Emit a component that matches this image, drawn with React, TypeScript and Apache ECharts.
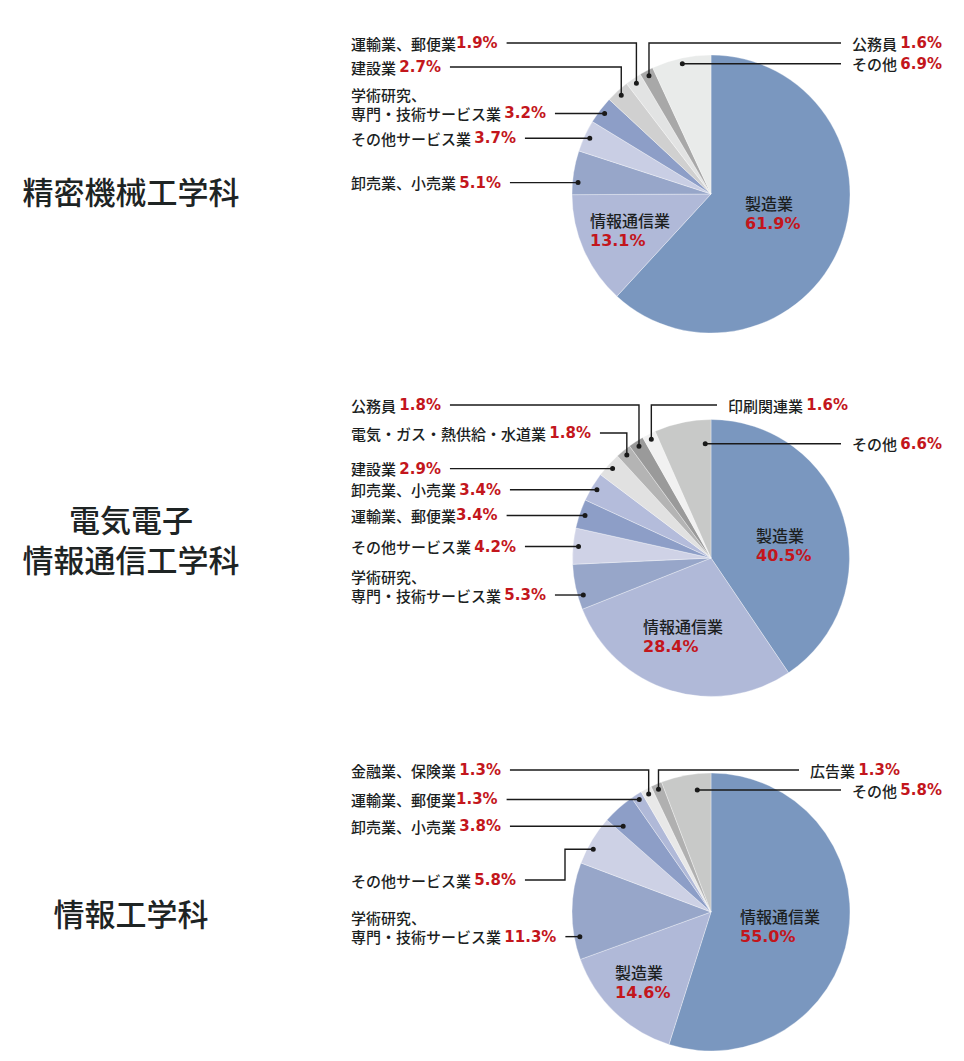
import React, { useEffect, useRef } from 'react';
import * as echarts from 'echarts';

// ---------- data ----------
const deptTitles = [['精密機械工学科'], ['電気電子', '情報通信工学科'], ['情報工学科']];

const cat1 = ['製造業', '情報通信業', '卸売業、小売業', 'その他サービス業', '学術研究、\n専門・技術サービス業', '建設業', '運輸業、郵便業', '公務員', 'その他'];
const val1 = [61.9, 13.1, 5.1, 3.7, 3.2, 2.7, 1.9, 1.6, 6.9];

const cat2 = ['製造業', '情報通信業', '学術研究、\n専門・技術サービス業', 'その他サービス業', '運輸業、郵便業', '卸売業、小売業', '建設業', '電気・ガス・熱供給・水道業', '公務員', '印刷関連業', 'その他'];
const val2 = [40.5, 28.4, 5.3, 4.2, 3.4, 3.4, 2.9, 1.8, 1.8, 1.6, 6.6];

const cat3 = ['情報通信業', '製造業', '学術研究、\n専門・技術サービス業', 'その他サービス業', '卸売業、小売業', '運輸業、郵便業', '金融業、保険業', '広告業', 'その他'];
const val3 = [55.0, 14.6, 11.3, 5.8, 3.8, 1.3, 1.3, 1.3, 5.8];

// ---------- styles / layout ----------
const col1 = ['#7a97bf', '#b0b9d8', '#97a6c9', '#c9cee4', '#8d9ec7', '#d0d0d0', '#e2e3e3', '#a8a8a8', '#e9ebea'];
const col2 = ['#7a97bf', '#b0b9d8', '#97a6c9', '#cfd2e6', '#8d9ec7', '#b4bcdb', '#e1e1e1', '#b4b4b4', '#9a9a9a', '#f1f1f1', '#c8c9c8'];
const col3 = ['#7a97bf', '#b0b9d8', '#97a6c9', '#cdd1e5', '#8d9ec7', '#b0b9d8', '#e8e8e8', '#b0b0b0', '#c8c9c8'];

const pieGeom = [
  { cx: 711, cy: 194, r: 139, tx: 131, ty: 190 },
  { cx: 711, cy: 558, r: 138.5, tx: 131, ty: 538 },
  { cx: 711, cy: 912, r: 139, tx: 131, ty: 912 },
];
const TITLE_GAP = 40;

// inner label anchors (left x, middle y)
const inner1: any = { 0: [745, 213], 1: [590, 230] };
const inner2: any = { 0: [756, 545], 1: [643, 636] };
const inner3: any = { 0: [740, 926], 1: [615, 982] };

// outer label layout: side, kind (s straight / v vertical elbow / j jog), y, text x, jog x, angle offset, radius factor
const outer1: any = {
  2: { side: 'L', kind: 's', off: -4 },
  3: { side: 'L', kind: 's' },
  4: { side: 'L', kind: 's' },
  5: { side: 'L', kind: 'v', y: 67 },
  6: { side: 'L', kind: 'v', y: 43 },
  7: { side: 'R', kind: 'v', y: 43, x: 852 },
  8: { side: 'R', kind: 's', x: 852 },
};
const outer2: any = {
  2: { side: 'L', kind: 's', off: -4 },
  3: { side: 'L', kind: 's' },
  4: { side: 'L', kind: 's' },
  5: { side: 'L', kind: 's' },
  6: { side: 'L', kind: 's' },
  7: { side: 'L', kind: 'v', y: 433 },
  8: { side: 'L', kind: 'v', y: 405 },
  9: { side: 'R', kind: 'v', y: 405, x: 728 },
  10: { side: 'R', kind: 's', x: 852, off: 9, rf: 0.86 },
};
const outer3: any = {
  2: { side: 'L', kind: 's', off: -11 },
  3: { side: 'L', kind: 'j', y: 880, jx: 565, off: -3 },
  4: { side: 'L', kind: 's', off: -4, rf: 0.92 },
  5: { side: 'L', kind: 's' },
  6: { side: 'L', kind: 'v', y: 770 },
  7: { side: 'R', kind: 'v', y: 770, x: 810 },
  8: { side: 'R', kind: 's', x: 852, off: 4, rf: 0.92 },
};

const cats = [cat1, cat2, cat3];
const vals = [val1, val2, val3];
const cols = [col1, col2, col3];
const inners = [inner1, inner2, inner3];
const outers = [outer1, outer2, outer3];

const LEFT_X = 351;
const DOT_FRAC = 0.96;
const JP = '"Noto Sans CJK JP", "Noto Sans CJK SC", sans-serif';
const NUM = '"DejaVu Sans", sans-serif';
const TXT = '#1c1f1f';
const RED = '#c3161c';
const LINE = '#1a1a1a';
const LH = 19;
const ILH = 20.5;

function buildSeries(k: number) {
  const G = pieGeom[k];
  const cs = cats[k];
  const vs = vals[k];
  const inner = inners[k];
  const outer = outers[k];
  const R = G.r * DOT_FRAC;
  const adjust = (px: number, py: number, o: any) => {
    const phi = Math.atan2(py - G.cy, px - G.cx) + (((o && o.off) || 0) * Math.PI) / 180;
    const rr = R * ((o && o.rf) || 1);
    return [G.cx + rr * Math.cos(phi), G.cy + rr * Math.sin(phi)];
  };

  const main: any = {
    type: 'pie',
    z: 2,
    center: [G.cx, G.cy],
    radius: [0, G.r],
    startAngle: 90,
    clockwise: true,
    silent: true,
    avoidLabelOverlap: false,
    emphasis: { disabled: true },
    itemStyle: { borderColor: 'rgba(255,255,255,0.55)', borderWidth: 0.6 },
    label: {
      show: true,
      position: 'inside',
      overflow: 'none',
      formatter: (p: any) =>
        inner[p.dataIndex] ? `{n|${p.name}}\n{v|${Number(p.value).toFixed(1)}%}` : '{d| }',
      rich: {
        n: { fontFamily: JP, fontSize: 16, fontWeight: 500, color: TXT, lineHeight: ILH },
        v: { fontFamily: NUM, fontSize: 16, fontWeight: 'bold', color: RED, lineHeight: ILH },
        d: { width: 5, height: 5, lineHeight: 5, fontSize: 1, backgroundColor: LINE, borderRadius: 3, padding: 0 },
      },
    },
    labelLine: { show: false },
    labelLayout: (p: any) => {
      const i = p.dataIndex;
      if (inner[i]) return { x: inner[i][0], y: inner[i][1], align: 'left', verticalAlign: 'middle' };
      const rc = p.labelRect;
      const [x, y] = adjust(rc.x + rc.width / 2, rc.y + rc.height / 2, outer[i]);
      return { x, y, align: 'center', verticalAlign: 'middle' };
    },
    data: vs.map((v, i) => ({ name: cs[i], value: v, itemStyle: { color: cols[k][i] } })),
  };

  const lines: any = {
    type: 'pie',
    z: 3,
    left: 0,
    top: 0,
    width: 4000,
    height: 3000,
    center: [G.cx, G.cy],
    radius: [0, R],
    startAngle: 90,
    clockwise: true,
    silent: true,
    avoidLabelOverlap: false,
    emphasis: { disabled: true },
    itemStyle: { color: 'rgba(0,0,0,0)', borderWidth: 0 },
    label: {
      show: true,
      position: 'outside',
      overflow: 'none',
      formatter: (p: any) => {
        const parts = String(p.name).split('\n');
        const sep = p.name === '運輸業、郵便業' ? '' : ' ';
        return parts
          .map((s, j) =>
            j < parts.length - 1 ? `{n|${s}}` : `{n|${s}}${sep}{v|${Number(p.value).toFixed(1)}%}`
          )
          .join('\n');
      },
      rich: {
        n: { fontFamily: JP, fontSize: 15, fontWeight: 500, color: TXT, lineHeight: LH },
        v: { fontFamily: NUM, fontSize: 15, fontWeight: 'bold', color: RED, lineHeight: LH },
      },
    },
    labelLine: { show: true, length: 10, length2: 10, smooth: false, lineStyle: { color: LINE, width: 1.4 } },
    labelLayout: (p: any) => {
      const i = p.dataIndex;
      const o = outer[i];
      if (!o || !p.labelLinePoints) return {};
      const p0 = p.labelLinePoints[0];
      const [dx, dy] = adjust(p0[0], p0[1], o);
      const multi = String(cs[i]).includes('\n');
      const ly = o.kind === 's' ? dy : o.y;
      const yc = multi ? ly - LH / 2 : ly;
      let pts: number[][];
      if (o.side === 'L') {
        const end = LEFT_X + p.labelRect.width + 9;
        if (o.kind === 's') pts = [[dx, dy], [end, dy]];
        else if (o.kind === 'v') pts = [[dx, dy], [dx, ly], [end, ly]];
        else pts = [[dx, dy], [o.jx, dy], [o.jx, ly], [end, ly]];
        return { x: LEFT_X, y: yc, align: 'left', verticalAlign: 'middle', labelLinePoints: pts };
      }
      const end = o.x - 11;
      pts = o.kind === 's' ? [[dx, dy], [end, dy]] : [[dx, dy], [dx, ly], [end, ly]];
      return { x: o.x, y: yc, align: 'left', verticalAlign: 'middle', labelLinePoints: pts };
    },
    data: vs.map((v, i) => ({
      name: cs[i],
      value: v,
      label: { show: !!outer[i] },
      labelLine: { show: !!outer[i] },
    })),
  };
  return [main, lines];
}

export default function App() {
  const ref = useRef<HTMLDivElement>(null);
  useEffect(() => {
    if (!ref.current) return;
    const chart = echarts.init(ref.current, null, { renderer: 'svg' });
    const series = [0, 1, 2].flatMap((k) => buildSeries(k));
    const graphic: any[] = [];
    deptTitles.forEach((lines, k) => {
      const n = lines.length;
      lines.forEach((t, j) => {
        graphic.push({
          type: 'text',
          x: pieGeom[k].tx,
          y: pieGeom[k].ty + (j - (n - 1) / 2) * TITLE_GAP,
          silent: true,
          style: {
            text: t,
            fill: '#1e2424',
            fontFamily: JP,
            fontSize: 31,
            fontWeight: 500,
            align: 'center',
            verticalAlign: 'middle',
          },
        });
      });
    });
    chart.setOption({
      animation: false,
      backgroundColor: '#ffffff',
      series,
      graphic,
    });
    return () => chart.dispose();
  }, []);
  return (
    <div
      ref={ref}
      style={{ position: 'absolute', left: 0, top: 0, width: 964, height: 1061, background: '#fff' }}
    />
  );
}
